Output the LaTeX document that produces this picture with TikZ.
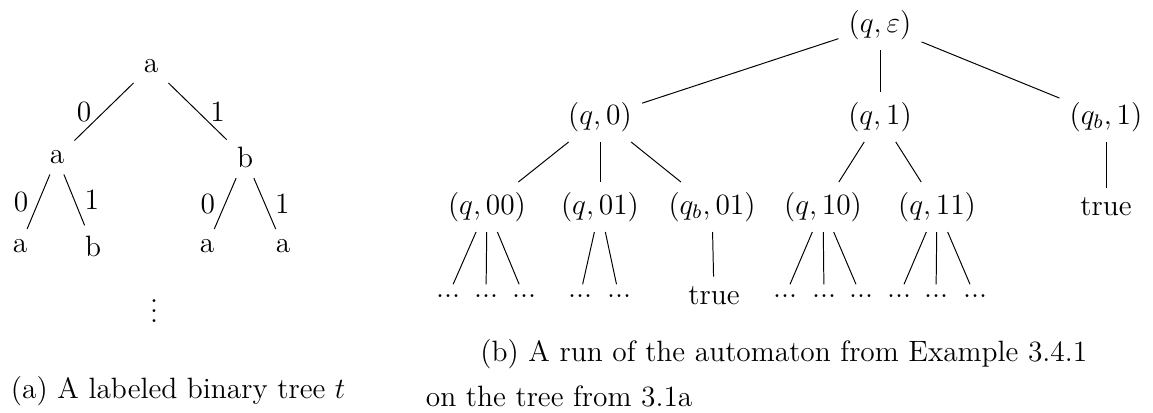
\documentclass[tikz,border=0pt,12pt]{standalone}
\usepackage{amsmath}
\begin{document}
\begin{tikzpicture}[x=0.408pt,y=-0.408pt,
  every node/.style={inner sep=4pt},
  captxt/.style={inner sep=0pt,anchor=base west},
  treeline/.style={line width=0.4pt}]
\useasboundingbox (0,0) rectangle (1153,412);

% ---------- (a) labeled binary tree ----------
\node (t)   at (151,66)    {a};
\node (t0)  at (57,157.5)  {a};
\node (t1)  at (245,157.5) {b};
\node (t00) at (20,246)    {a};
\node (t01) at (93,246)    {b};
\node (t10) at (207,246)   {a};
\node (t11) at (283,246)   {a};
\draw[treeline] (t) -- node[left,xshift=-1pt]  {0} (t0);
\draw[treeline] (t) -- node[right,xshift=1pt] {1} (t1);
\draw[treeline] (t0) -- node[left]  {0} (t00);
\draw[treeline] (t0) -- node[right] {1} (t01);
\draw[treeline] (t1) -- node[left]  {0} (t10);
\draw[treeline] (t1) -- node[right] {1} (t11);
\node[anchor=base] (vd) at (154,322) {$\vdots$};

% ---------- (b) run tree ----------
\node (r)   at (880,25)  {$(q,\varepsilon)$};
\node (r0)  at (600,117) {$(q,0)$};
\node (r1)  at (880,117) {$(q,1)$};
\node (rb)  at (1106,117) {$(q_b,1)$};
\node (r00) at (487,207) {$(q,00)$};
\node (r01) at (600,207) {$(q,01)$};
\node (rb01) at (712,207) {$(q_b,01)$};
\node (r10) at (823,207) {$(q,10)$};
\node (r11) at (937,207) {$(q,11)$};
\node (rbt) at (1106,207) {true};
\draw[treeline] (r) -- (r0);
\draw[treeline] (r) -- (r1);
\draw[treeline] (r) -- (rb);
\draw[treeline] (r0) -- (r00);
\draw[treeline] (r0) -- (r01);
\draw[treeline] (r0) -- (rb01);
\draw[treeline] (r1) -- (r10);
\draw[treeline] (r1) -- (r11);
\draw[treeline] (rb) -- (rbt);

\node (a1) at (448,296) {...};
\node (a2) at (486,296) {...};
\node (a3) at (524,296) {...};
\node (b1) at (580,296) {...};
\node (b2) at (619,296) {...};
\node (ct) at (714,296) {true};
\node (c1) at (785,296) {...};
\node (c2) at (824,296) {...};
\node (c3) at (861,296) {...};
\node (e1) at (899,296) {...};
\node (e2) at (936,296) {...};
\node (e3) at (975,296) {...};
\foreach \c in {a1,a2,a3} \draw[treeline] (r00) -- (\c);
\foreach \c in {b1,b2} \draw[treeline] (r01) -- (\c);
\draw[treeline] (rb01) -- (ct);
\foreach \c in {c1,c2,c3} \draw[treeline] (r10) -- (\c);
\foreach \c in {e1,e2,e3} \draw[treeline] (r11) -- (\c);

% ---------- captions ----------
\node[captxt] (capa)  at (10.5,398) {(a) A labeled binary tree $t$};
\node[captxt] (capb1) at (480,361)  {(b) A run of the automaton from Example 3.4.1};
\node[captxt] (capb2) at (425.5,406) {on the tree from 3.1a};
\end{tikzpicture}
\end{document}
